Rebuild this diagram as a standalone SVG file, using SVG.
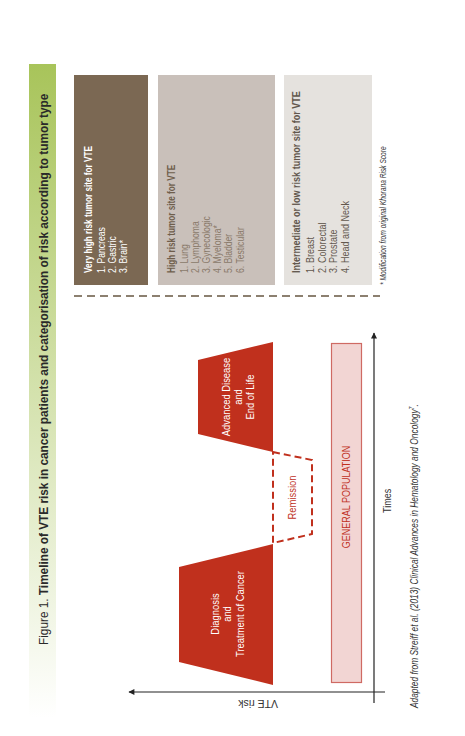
<svg xmlns="http://www.w3.org/2000/svg" width="465" height="736" viewBox="0 0 465 736">
<defs>
<linearGradient id="gb" x1="0" y1="0" x2="0" y2="1"><stop offset="0" stop-color="#a8c45a"/><stop offset="1" stop-color="#ffffff"/></linearGradient>
<marker id="ar" viewBox="0 0 10 10" refX="9" refY="5" markerWidth="7" markerHeight="6" orient="auto" markerUnits="userSpaceOnUse"><path d="M0,0 L10,5 L0,10 z" fill="#222"/></marker>
</defs>
<style>
text{font-family:"Liberation Sans",Arial,sans-serif;}
.b{font-weight:bold}
.i{font-style:italic}
.w{fill:#fff}
.bx{font-size:10px}
.it{font-size:10.5px}
.g1{fill:#6f5e4c}
.g2{fill:#8a7a6a}
.l1{fill:#62574d}
.trap{fill:#c0301d}
.lab{font-size:11.5px;fill:#fff;text-anchor:middle}
.axis{stroke:#222;stroke-width:1.2;fill:none}
</style>
<g id="title">
<rect x="29" y="64" width="27" height="654" fill="url(#gb)"/>
<text transform="translate(48,645) rotate(-90) scale(0.875,1)" font-size="13.5" fill="#2a2a2a"><tspan>Figure 1. </tspan><tspan class="b">Timeline of VTE risk in cancer patients and categorisation of risk according to tumor type</tspan></text>
</g>
<g id="very-high">
<rect x="74" y="75" width="74" height="210" fill="#7b6853"/>
<text class="bx b w" transform="translate(91.5,273) rotate(-90) scale(0.82,1)">Very high risk tumor site for VTE</text>
<text class="it w" transform="translate(104.5,273) rotate(-90) scale(0.82,1)">1. Pancreas</text>
<text class="it w" transform="translate(115.5,273) rotate(-90) scale(0.82,1)">2. Gastric</text>
<text class="it w" transform="translate(126.5,273) rotate(-90) scale(0.82,1)">3. Brain*</text>
</g>
<g id="high">
<rect x="158" y="75" width="117" height="210" fill="#c9c0ba"/>
<text class="bx b g1" transform="translate(174.5,273) rotate(-90) scale(0.82,1)">High risk tumor site for VTE</text>
<text class="it g2" transform="translate(187.5,273) rotate(-90) scale(0.82,1)">1. Lung</text>
<text class="it g2" transform="translate(198.7,273) rotate(-90) scale(0.82,1)">2. Lymphoma</text>
<text class="it g2" transform="translate(209.9,273) rotate(-90) scale(0.82,1)">3. Gynecologic</text>
<text class="it g2" transform="translate(221.1,273) rotate(-90) scale(0.82,1)">4. Myeloma*</text>
<text class="it g2" transform="translate(232.3,273) rotate(-90) scale(0.82,1)">5. Bladder</text>
<text class="it g2" transform="translate(243.5,273) rotate(-90) scale(0.82,1)">6. Testicular</text>
</g>
<g id="intermediate">
<rect x="284" y="75" width="88" height="210" fill="#e5e2de"/>
<text class="b l1" font-size="11" transform="translate(300,273) rotate(-90) scale(0.82,1)">Intermediate or low risk tumor site for VTE</text>
<text class="l1" font-size="11" transform="translate(314,273) rotate(-90) scale(0.82,1)">1. Breast</text>
<text class="l1" font-size="11" transform="translate(325.7,273) rotate(-90) scale(0.82,1)">2. Colorectal</text>
<text class="l1" font-size="11" transform="translate(337.4,273) rotate(-90) scale(0.82,1)">3. Prostate</text>
<text class="l1" font-size="11" transform="translate(349.1,273) rotate(-90) scale(0.82,1)">4. Head and Neck</text>
</g>
<g id="footnote">
<text class="i" font-size="8.5" fill="#333" transform="translate(386,285) rotate(-90) scale(0.78,1)">* Modification from original Khorana Risk Score</text>
</g>
<g id="separator">
<line x1="74" y1="296" x2="380" y2="296" stroke="#8c8070" stroke-width="2" stroke-dasharray="8 5"/>
</g>
<g id="general-population">
<rect x="331.5" y="343.5" width="30" height="339" fill="#f2d5d3" stroke="#cf6a63" stroke-width="1.2"/>
<text font-size="11" fill="#c0301d" text-anchor="middle" transform="translate(350,497) rotate(-90) scale(0.82,1)">GENERAL POPULATION</text>
</g>
<g id="diagnosis">
<polygon class="trap" points="179,567 273,544 273,685 179,662"/>
<text class="lab" transform="translate(218.5,614) rotate(-90) scale(0.82,1)">Diagnosis</text>
<text class="lab" transform="translate(231,614) rotate(-90) scale(0.82,1)">and</text>
<text class="lab" transform="translate(243.5,614) rotate(-90) scale(0.82,1)">Treatment of Cancer</text>
</g>
<g id="remission">
<polygon points="273,452 312,460 312,534 273,543" fill="none" stroke="#c0301d" stroke-width="2" stroke-dasharray="7 4"/>
<text font-size="11.5" fill="#c0301d" text-anchor="middle" transform="translate(296,497.5) rotate(-90) scale(0.82,1)">Remission</text>
</g>
<g id="advanced">
<polygon class="trap" points="198,360 273,342 273,452 198,434"/>
<text class="lab" transform="translate(230,397) rotate(-90) scale(0.82,1)">Advanced Disease</text>
<text class="lab" transform="translate(242,397) rotate(-90) scale(0.82,1)">and</text>
<text class="lab" transform="translate(254,397) rotate(-90) scale(0.82,1)">End of Life</text>
</g>
<g id="connectors">
<line class="axis" x1="374" y1="703" x2="374" y2="333" marker-end="url(#ar)"/>
<line class="axis" x1="385" y1="692" x2="129" y2="692" marker-end="url(#ar)"/>
</g>
<g id="axis-labels">
<text font-size="11" fill="#333" transform="translate(391,513) rotate(-90) scale(0.82,1)">Times</text>
<text font-size="10.5" fill="#333" transform="translate(278,700) rotate(180)">VTE risk</text>
</g>
<g id="source">
<text class="i" font-size="10.2" fill="#333" transform="translate(418,708) rotate(-90) scale(0.82,1)">Adapted from Streiff et al. (2013) Clinical Advances in Hematology and Oncology<tspan font-size="6.5" dy="-4">7</tspan><tspan dy="4">.</tspan></text>
</g>
</svg>
